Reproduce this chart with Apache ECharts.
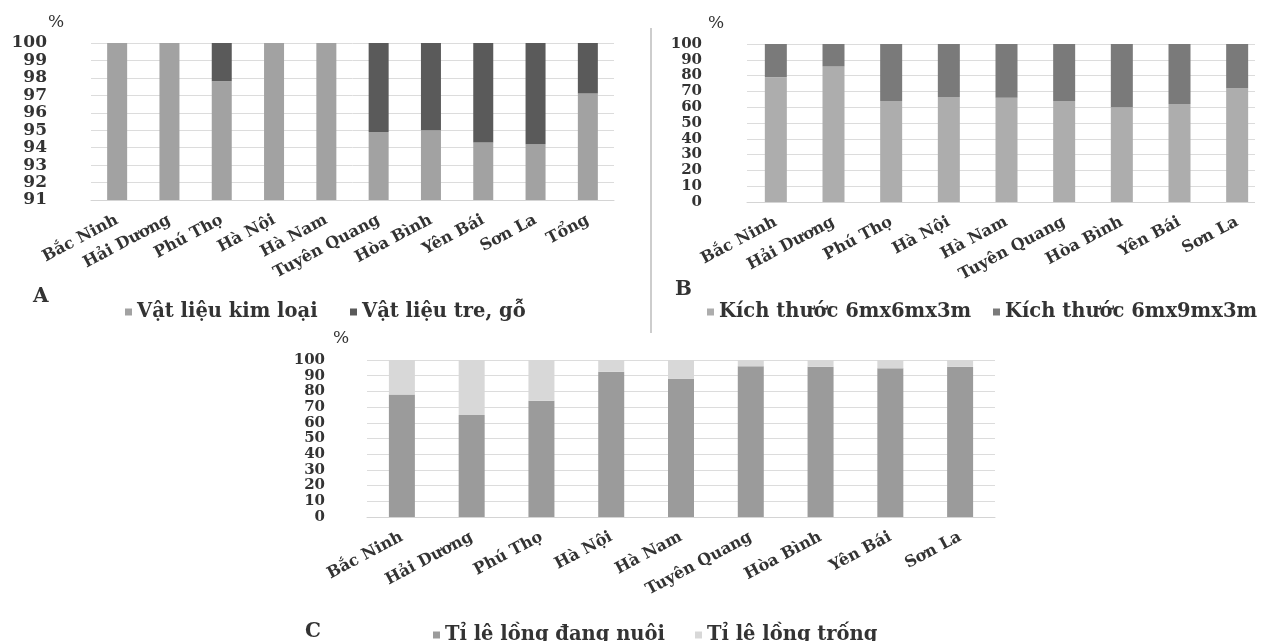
<!DOCTYPE html>
<html>
<head>
<meta charset="utf-8">
<script src="https://cdn.jsdelivr.net/npm/echarts@6/dist/echarts.min.js"></script>
<style>
html,body{margin:0;padding:0;background:#fff;}
#c{width:1266px;height:641px;}
</style>
</head>
<body>
<div id="c"></div>
<script>
const catsA = ['Bắc Ninh','Hải Dương','Phú Thọ','Hà Nội','Hà Nam','Tuyên Quang','Hòa Bình','Yên Bái','Sơn La','Tổng'];
const catsB = ['Bắc Ninh','Hải Dương','Phú Thọ','Hà Nội','Hà Nam','Tuyên Quang','Hòa Bình','Yên Bái','Sơn La'];
const catsC = ['Bắc Ninh','Hải Dương','Phú Thọ','Hà Nội','Hà Nam','Tuyên Quang','Hòa Bình','Yên Bái','Sơn La'];

const nameA1 = 'Vật liệu kim loại', nameA2 = 'Vật liệu tre, gỗ';
const nameB1 = 'Kích thước 6mx6mx3m', nameB2 = 'Kích thước 6mx9mx3m';
const nameC1 = 'Tỉ lệ lồng đang nuôi', nameC2 = 'Tỉ lệ lồng trống';

const metalA = [100, 100, 97.8, 100, 100, 94.9, 95.0, 94.3, 94.2, 97.1];
const woodA  = [0, 0, 2.2, 0, 0, 5.1, 5.0, 5.7, 5.8, 2.9];
const size66B = [79, 86, 64, 66.5, 66, 64, 60, 62, 72];
const size69B = [21, 14, 36, 33.5, 34, 36, 40, 38, 28];
const raisingC = [78, 65, 74, 92.5, 88, 96, 95.7, 94.7, 95.7];
const emptyC   = [22, 35, 26, 7.5, 12, 4, 4.3, 5.3, 4.3];

const FONT = 'DejaVu Serif';
const TXT = '#333333';

function xAx(gi, cats) {
  return {
    type: 'category', gridIndex: gi, data: cats,
    axisLine: { show: true, lineStyle: { color: '#d4d4d4', width: 1 } },
    axisTick: { show: false },
    axisLabel: { rotate: 28, margin: 19, interval: 0, fontFamily: FONT, fontWeight: 'bold', fontSize: 16, color: TXT }
  };
}
function yAx(gi, min, max, interval, margin, fs) {
  return {
    type: 'value', gridIndex: gi, min: min, max: max, interval: interval,
    axisLine: { show: false }, axisTick: { show: false },
    splitLine: { lineStyle: { color: '#dcdcdc', width: 1 } },
    axisLabel: { margin: margin, hideOverlap: false,
      fontFamily: FONT, fontWeight: 'bold', fontSize: fs, color: TXT, align: 'right' }
  };
}
function leg(name, left, top) {
  return {
    data: [name], left: left, top: top, padding: 0, itemWidth: 7, itemHeight: 7,
    icon: 'rect', selectedMode: false,
    textStyle: { fontFamily: FONT, fontWeight: 'bold', fontSize: 19.5, color: TXT }
  };
}
function txt(x, y, s, size, bold) {
  return { type: 'text', left: x, top: y, z: 50,
    style: { text: s, font: (bold ? 'bold ' : '') + size + 'px "' + FONT + '"', fill: TXT } };
}

const chart = echarts.init(document.getElementById('c'), null, { renderer: 'canvas' });
chart.setOption({
  backgroundColor: '#ffffff',
  animation: false,
  grid: [
    { left: 91, top: 43, width: 523, height: 157 },
    { left: 747, top: 44, width: 525, height: 158 },
    { left: 367, top: 360, width: 628, height: 157 }
  ],
  xAxis: [xAx(0, catsA), xAx(1, catsB), xAx(2, catsC)],
  yAxis: [yAx(0, 91, 100, 1, 44, 17), yAx(1, 0, 100, 10, 45, 15), yAx(2, 0, 100, 10, 42, 15)],
  legend: [
    leg(nameA1, 125, 302), leg(nameA2, 350, 302),
    leg(nameB1, 707, 302), leg(nameB2, 993, 302),
    leg(nameC1, 433, 625), leg(nameC2, 695, 625)
  ],
  series: [
    { name: nameA1, type: 'bar', stack: 'a', xAxisIndex: 0, yAxisIndex: 0, barWidth: 20, data: metalA, itemStyle: { color: '#a2a2a2' } },
    { name: nameA2, type: 'bar', stack: 'a', xAxisIndex: 0, yAxisIndex: 0, barWidth: 20, data: woodA, itemStyle: { color: '#5a5a5a' } },
    { name: nameB1, type: 'bar', stack: 'b', xAxisIndex: 1, yAxisIndex: 1, barWidth: 22, data: size66B, itemStyle: { color: '#adadad' } },
    { name: nameB2, type: 'bar', stack: 'b', xAxisIndex: 1, yAxisIndex: 1, barWidth: 22, data: size69B, itemStyle: { color: '#7a7a7a' } },
    { name: nameC1, type: 'bar', stack: 'c', xAxisIndex: 2, yAxisIndex: 2, barWidth: 26, data: raisingC, itemStyle: { color: '#9b9b9b' } },
    { name: nameC2, type: 'bar', stack: 'c', xAxisIndex: 2, yAxisIndex: 2, barWidth: 26, data: emptyC, itemStyle: { color: '#d8d8d8' } }
  ],
  graphic: [
    { type: 'rect', shape: { x: 1255, y: 30, width: 11, height: 180 }, style: { fill: '#ffffff' }, z: 40 },
    txt(48, 14, '%', 17, false), txt(708, 15, '%', 17, false), txt(333, 330, '%', 17, false),
    txt(33, 287, 'A', 20, true), txt(675, 280, 'B', 20, true), txt(305, 622, 'C', 20, true),
    { type: 'line', shape: { x1: 651, y1: 28, x2: 651, y2: 333 }, style: { stroke: '#cdcdcd', lineWidth: 2 } }
  ]
});
</script>
</body>
</html>
